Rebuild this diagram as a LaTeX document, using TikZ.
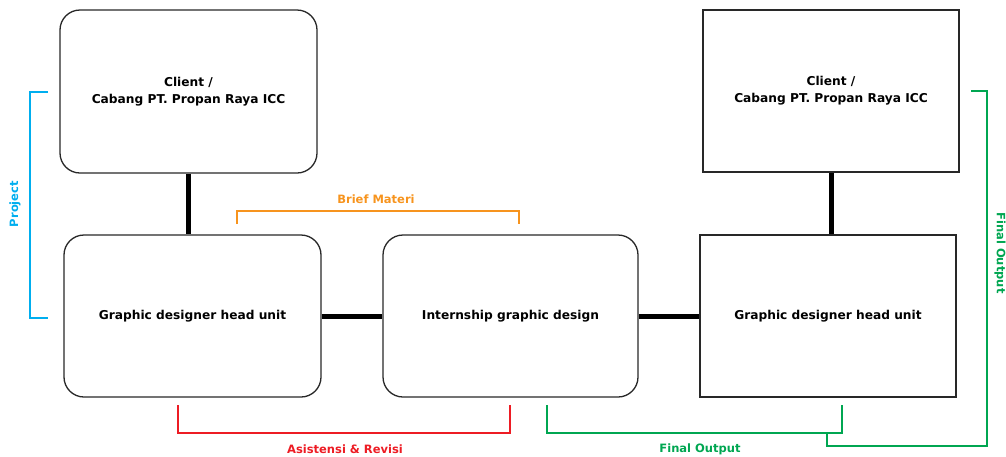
\documentclass[tikz,border=0pt]{standalone}
\usepackage{fontspec}
\setmainfont{DejaVu Sans}
\definecolor{cblue}{RGB}{0,174,239}
\definecolor{corange}{RGB}{247,148,30}
\definecolor{cred}{RGB}{237,28,36}
\definecolor{cgreen}{RGB}{0,166,81}
\definecolor{cborder}{RGB}{40,40,40}
\tikzset{
  boxr/.style={draw=cborder, line width=1.3pt, rounded corners=20pt, inner sep=0pt, align=center, font=\bfseries\fontsize{12.2}{17}\selectfont},
  boxs/.style={draw=cborder, line width=1.3pt, inner sep=0pt, align=center, font=\bfseries\fontsize{12.2}{17}\selectfont},
  link/.style={line width=5pt, black},
  brk/.style={line width=2.4pt},
  lbl/.style={font=\bfseries\fontsize{11.5}{13}\selectfont, inner sep=0pt}
}
\begin{document}
\begin{tikzpicture}[x=1pt,y=-1pt]
\useasboundingbox (0,0) rectangle (1006,456);
% boxes
\node[boxr, minimum width=257pt, minimum height=163pt] (A) at (188.5,91.5) {Client /\\Cabang PT. Propan Raya ICC};
\node[boxr, minimum width=257pt, minimum height=162pt] (B) at (192.5,316) {Graphic designer head unit};
\node[boxr, minimum width=255pt, minimum height=162pt] (C) at (510.5,316) {Internship graphic design};
\node[boxs, minimum width=256pt, minimum height=162pt] (D) at (828,316) {Graphic designer head unit};
\node[boxs, minimum width=256pt, minimum height=162pt] (E) at (831,91) {Client /\\Cabang PT. Propan Raya ICC};
% links
\draw[link] (A.south) -- (A.south |- B.north);
\draw[link] (E.south) -- (E.south |- D.north);
\draw[link] (B.east) -- (C.west);
\draw[link] (C.east) -- (D.west);
% Project bracket
\coordinate (p1) at (48,92);
\coordinate (p2) at (48,318);
\draw[brk, cblue] (p1) -- (30,92) -- (30,318) -- (p2);
\node[lbl, text=cblue, rotate=90] (plabel) at (15,204) {Project};
% Brief Materi
\coordinate (b1) at (237,224);
\coordinate (b2) at (519,224);
\draw[brk, corange] (b1) -- (237,211) -- (519,211) -- (b2);
\node[lbl, text=corange] (blabel) at (376,199) {Brief Materi};
% Asistensi
\coordinate (r1) at (178,405);
\coordinate (r2) at (510,405);
\draw[brk, cred] (r1) -- (178,433) -- (510,433) -- (r2);
\node[lbl, text=cred] (rlabel) at (345,449) {Asistensi \& Revisi};
% Final output bottom
\coordinate (g1) at (547,405);
\coordinate (g2) at (842,405);
\draw[brk, cgreen] (g1) -- (547,433) -- (842,433) -- (g2);
\node[lbl, text=cgreen] (glabel) at (700,449) {Final Output};
% Final output right
\coordinate (h1) at (827,433);
\coordinate (h2) at (971,91);
\draw[brk, cgreen] (h1) -- (827,446) -- (987,446) -- (987,91) -- (h2);
\node[lbl, text=cgreen, rotate=-90] (hlabel) at (1000,253) {Final Output};
\end{tikzpicture}
\end{document}
